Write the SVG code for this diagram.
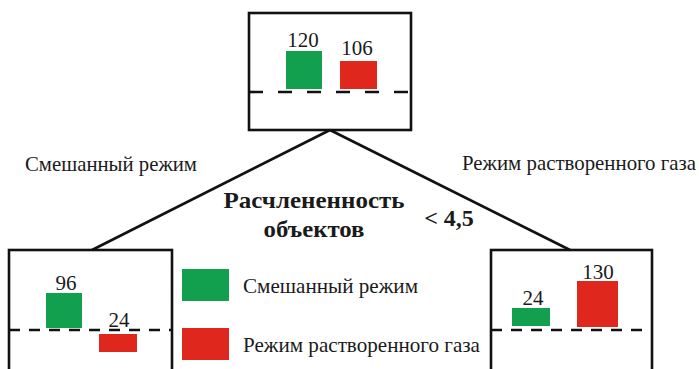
<svg xmlns="http://www.w3.org/2000/svg" width="699" height="369" viewBox="0 0 699 369">
<style>
.box{fill:none;stroke:#111;stroke-width:2.6}
.dash1{stroke:#111;stroke-width:2.6;stroke-dasharray:14 15}
.dash2{stroke:#111;stroke-width:2.6;stroke-dasharray:11 9}
.g{fill:#12a04f}
.r{fill:#e0271d}
text{font-family:'Liberation Serif','Times New Roman','DejaVu Serif',serif;fill:#1a1a1a}
.t{font-size:21px}
.n{font-size:21px;text-anchor:middle}
.b{font-size:24px;font-weight:bold;text-anchor:middle}
.conn{stroke:#111;stroke-width:2.6;fill:none}
</style>
<rect width="699" height="369" fill="#fff"/>
<g id="connectors">
<line class="conn" x1="330" y1="130" x2="92" y2="250"/>
<line class="conn" x1="330" y1="130" x2="570" y2="250"/>
</g>
<g id="root">
<rect class="box" x="249" y="13" width="162" height="117"/>
<rect class="g" x="286" y="51" width="36" height="38"/>
<rect class="r" x="340" y="61" width="37" height="28"/>
<line class="dash1" x1="249" y1="92" x2="411" y2="92"/>
<text class="n" x="303" y="47">120</text>
<text class="n" x="357" y="55">106</text>
</g>
<g id="left">
<rect class="box" x="9" y="250" width="163" height="130"/>
<rect class="g" x="46" y="293" width="36" height="35"/>
<rect class="r" x="99" y="334" width="38" height="18"/>
<line class="dash2" x1="9" y1="330" x2="172" y2="330"/>
<text class="n" x="66" y="290">96</text>
<text class="n" x="119" y="327">24</text>
</g>
<g id="right">
<rect class="box" x="491" y="250" width="161" height="130"/>
<rect class="g" x="512" y="308" width="38" height="18"/>
<rect class="r" x="577" y="281" width="41" height="46"/>
<line class="dash2" x1="491" y1="330" x2="652" y2="330"/>
<text class="n" x="533" y="305">24</text>
<text class="n" x="598" y="279">130</text>
</g>
<g id="labels">
<text class="t" x="25" y="171" textLength="172" lengthAdjust="spacingAndGlyphs">Смешанный режим</text>
<text class="t" x="462" y="170" textLength="234" lengthAdjust="spacingAndGlyphs">Режим растворенного газа</text>
<text class="b" x="314" y="208" textLength="181" lengthAdjust="spacingAndGlyphs">Расчлененность</text>
<text class="b" x="314" y="237" textLength="101" lengthAdjust="spacingAndGlyphs">объектов</text>
<text class="b" x="449" y="226" font-size="22">&lt; 4,5</text>
</g>
<g id="legend">
<rect class="g" x="182" y="269" width="47" height="32"/>
<rect class="r" x="182" y="328" width="47" height="32"/>
<text class="t" x="243" y="293" textLength="175" lengthAdjust="spacingAndGlyphs">Смешанный режим</text>
<text class="t" x="243" y="352" textLength="237" lengthAdjust="spacingAndGlyphs">Режим растворенного газа</text>
</g>
</svg>
